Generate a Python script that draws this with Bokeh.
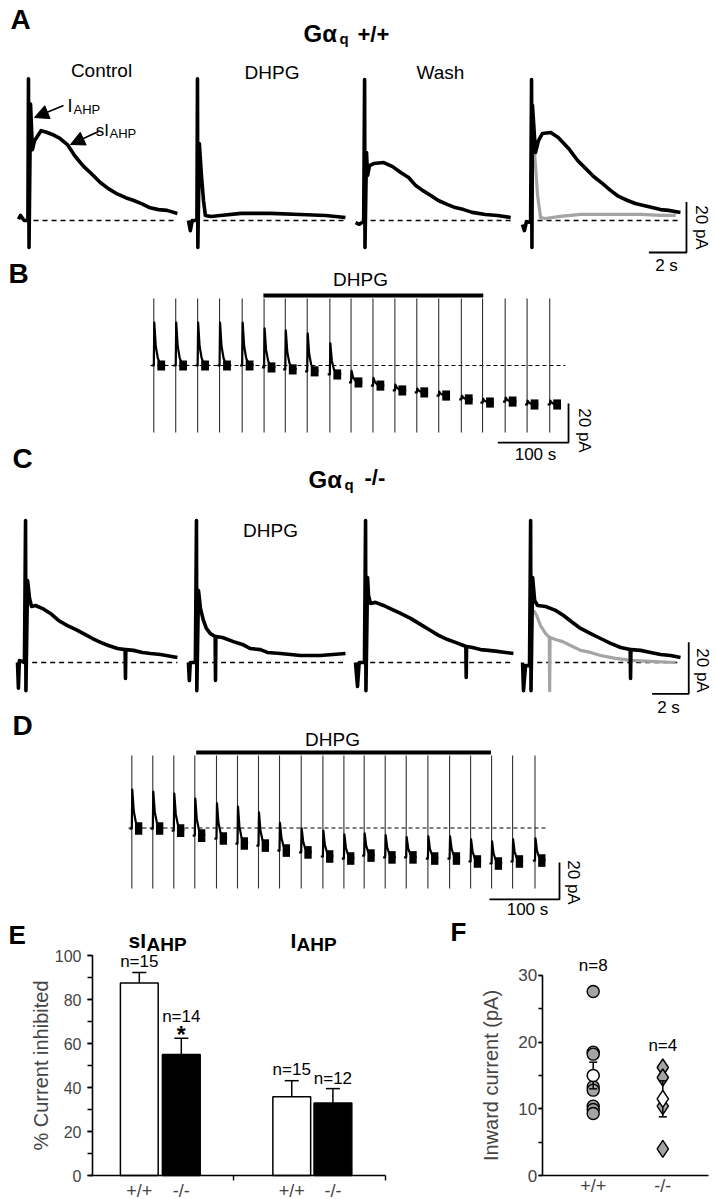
import math
from bokeh.plotting import figure
from bokeh.models import Range1d, LinearAxis, FixedTicker, SingleIntervalTicker, Arrow, NormalHead
from bokeh.core.properties import value
from bokeh.embed import file_html
from bokeh.resources import INLINE

# ======================= DATA =======================
# Panel A  (Gaq +/+): time (s) from sweep start, current (pA) vs baseline
A_ctrl_t = [0.0, 0.1, 0.3, 0.5, 0.53, 0.56, 0.64, 0.74, 0.85, 1.2, 1.45, 1.8, 2.2, 2.6, 3.0, 3.45, 3.95, 4.35, 4.8, 5.25, 5.7, 6.1, 6.6, 7.0, 7.45, 7.9, 8.45]
A_ctrl_i = [0.5, 2.0, 0.0, 0.0, 56.0, -10.7, 46.0, 28.0, 31.5, 35.5, 35.0, 34.0, 32.5, 30.0, 25.5, 21.5, 18.0, 15.0, 12.5, 10.5, 9.0, 8.0, 6.5, 5.0, 4.3, 4.0, 2.8]
A_dhpg_t = [0.0, 0.1, 0.2, 0.45, 0.48, 0.5, 0.58, 0.69, 0.8, 0.9, 1.2, 1.7, 2.8, 4.35, 5.95, 7.3, 8.35]
A_dhpg_i = [0.0, -4.0, 0.0, 0.0, 56.0, -10.7, 30.4, 17.8, 7.9, 2.0, 1.6, 2.0, 2.8, 2.8, 2.4, 2.0, 1.2]
A_wash_t = [0.0, 0.2, 0.43, 0.48, 0.5, 0.58, 0.64, 0.74, 0.96, 1.5, 1.97, 2.4, 2.82, 3.2, 3.56, 4.0, 4.4, 4.9, 5.3, 5.75, 6.2, 6.9, 7.55, 8.25]
A_wash_i = [-0.8, -1.5, -0.4, 55.7, -10.7, 26.9, 17.8, 21.7, 22.5, 22.9, 21.3, 19.0, 17.0, 13.8, 11.9, 9.9, 7.9, 6.3, 5.1, 4.3, 3.2, 2.4, 2.0, 1.2]
A_ovl_t = [0.0, 0.1, 0.21, 0.43, 0.48, 0.5, 0.53, 0.69, 0.85, 1.06, 1.5, 1.9, 2.45, 2.93, 3.35, 3.78, 4.26, 4.68, 5.11, 5.59, 6.0, 6.44, 6.9, 7.34, 7.77, 8.4]
A_ovl_i = [-1.6, -4.0, -0.4, -0.8, 55.7, -10.7, 45.5, 26.9, 31.6, 34.4, 34.8, 32.8, 28.5, 23.7, 20.6, 17.4, 14.6, 11.9, 9.5, 7.9, 6.7, 5.9, 5.1, 4.3, 4.0, 3.2]
A_gray_t = [0.53, 0.59, 0.69, 0.8, 0.96, 1.22, 2.0, 3.1, 4.15, 5.2, 6.3, 7.35, 8.15]
A_gray_i = [39.5, 31.6, 21.7, 9.9, 1.2, 0.8, 1.6, 2.4, 2.4, 2.4, 2.4, 2.0, 2.0]

# Panel C  (Gaq -/-)
C_ctrl_t = [0.0, 0.05, 0.1, 0.38, 0.44, 0.46, 0.55, 0.66, 0.77, 0.98, 1.37, 1.8, 2.24, 2.73, 3.17, 3.61, 4.1, 4.54, 4.97, 5.46, 5.88, 5.9, 5.92, 6.34, 6.83, 7.27, 7.81, 8.74]
C_ctrl_i = [0.0, -10.0, 0.8, 0.0, 55.0, -10.9, 31.8, 24.8, 21.7, 22.1, 20.9, 19.0, 16.3, 14.3, 12.8, 11.2, 9.3, 7.8, 6.6, 5.4, 5.0, -6.2, 5.0, 4.7, 3.9, 3.5, 3.1, 1.9]
C_dhpg_t = [0.0, 0.05, 0.1, 0.38, 0.44, 0.46, 0.55, 0.66, 0.82, 0.98, 1.2, 1.46, 1.48, 1.5, 1.86, 2.46, 2.95, 3.39, 3.93, 4.32, 5.03, 6.12, 7.21, 8.58]
C_dhpg_i = [0.0, -7.0, 0.0, 0.0, 55.0, -10.9, 27.9, 20.9, 16.3, 13.2, 11.2, 10.1, -7.0, 10.1, 9.7, 8.1, 7.0, 5.4, 5.0, 3.9, 3.5, 2.7, 2.7, 3.5]
C_wash_t = [0.0, 0.11, 0.2, 0.49, 0.55, 0.57, 0.66, 0.71, 0.82, 1.09, 1.53, 2.02, 2.46, 3.01, 3.66, 4.1, 4.54, 5.03, 5.46, 5.9, 6.03, 6.05, 6.07, 6.39, 6.83, 7.27, 7.76, 8.2, 8.63]
C_wash_i = [0.0, -9.3, 0.0, 0.0, 55.0, -10.9, 32.9, 26.0, 22.9, 23.3, 22.1, 20.5, 19.0, 17.1, 14.3, 12.4, 10.5, 8.9, 7.8, 6.6, 6.2, -5.8, 6.2, 5.8, 5.0, 4.7, 4.3, 3.9, 3.5]
C_ovl_t = [0.0, 0.05, 0.16, 0.38, 0.44, 0.46, 0.55, 0.66, 0.82, 1.26, 1.8, 2.24, 2.73, 3.17, 3.72, 4.26, 4.81, 5.36, 5.88, 5.9, 5.92, 6.45, 7.0, 7.54, 8.09, 8.63]
C_ovl_i = [0.0, -10.9, -1.2, -1.2, 55.0, -10.9, 32.9, 24.0, 22.1, 21.7, 20.2, 18.2, 15.5, 13.2, 11.2, 9.3, 7.4, 5.8, 5.0, -6.2, 5.0, 4.7, 3.9, 3.1, 2.7, 1.9]
C_gray_t = [0.6, 0.77, 0.98, 1.26, 1.46, 1.48, 1.5, 1.8, 2.19, 2.62, 3.17, 3.72, 4.26, 5.08, 5.9, 7.0, 8.36]
C_gray_i = [20.2, 18.2, 14.3, 11.2, 9.7, -10.9, 9.7, 8.9, 8.1, 6.6, 4.7, 3.9, 2.7, 1.6, 0.8, 0.4, 0.0]

# Panel B (time course, +/+): sweep onset (s), holding level (pA), AHP amplitude (pA)
B_onset = [0, 31, 62, 93, 125, 156, 186, 217, 249, 279, 310, 341, 372, 403, 435, 465, 497, 528, 560]
B_hold = [0, 0, 0, 0, 0, -1, -2, -3, -4.6, -8.7, -10.3, -12.8, -13.8, -15.4, -17.4, -19, -18.5, -20, -20]
B_amp = [22, 22, 22, 22, 22, 20, 20, 19.5, 16, 6, 4, 3, 2, 2, 2, 2, 2, 2, 2]
B_dhpg = [155, 466]
# Panel D (time course, -/-)
D_onset = [0, 30, 60, 90, 121, 151, 181, 211, 242, 273, 303, 332, 362, 392, 423, 454, 484, 514, 544, 576]
D_hold = [-0.3, -0.3, -1.4, -4.1, -5.7, -8.4, -9.5, -12.2, -13.2, -15.4, -16.5, -14.9, -15.9, -15.9, -16.5, -16.5, -18.1, -19.2, -18.1, -17.6]
D_amp = [21, 20, 20, 20, 19, 20, 18, 15, 13, 14, 13, 12, 12, 11, 12, 12, 12, 12, 12, 12]
D_dhpg = [92, 513]
# normalised AHP decay of one sweep in B/D (time after spike, fraction of peak)
SW_T = [0.7, 2.8, 5.7, 8.5]
SW_F = [1.0, 0.45, 0.17, 0.06]

# Panel E
E_geno = ["+/+", "-/-", "+/+", "-/-"]
E_mean = [87.5, 55.0, 35.8, 33.0]
E_sem = [4.8, 7.4, 7.3, 6.5]
E_n = ["n=15", "n=14", "n=15", "n=12"]
# Panel F
F_cats = ["+/+", "-/-"]
F_wt = [27.6, 18.5, 18.2, 13.3, 12.8, 10.4, 9.9, 9.3]
F_ko = [16.2, 14.7, 10.4, 4.0]
F_mean = [15.0, 11.5]
F_sem = [2.0, 2.7]
F_n = ["n=8", "n=4"]

# ======================= LAYOUT =======================
FONT = "Liberation Sans"
X0, X1, Y0, Y1 = 0, 715, 0, 1199
p = figure(width=X1 - X0, height=Y1 - Y0, x_range=Range1d(X0, X1), y_range=Range1d(Y1, Y0),
           x_axis_location=None, y_axis_location=None, output_backend="svg",
           toolbar_location=None, min_border=0, outline_line_color=None,
           background_fill_color="white", border_fill_color="white")
p.xgrid.visible = False
p.ygrid.visible = False

# panel -> (origin x px, origin y px, px per x-unit, px per y-unit)
PANELS = {
    "A": (18, 220, 18.8, 2.53),
    "B": (153.3, 365, 0.707, 1.95),
    "C": (17, 662, 18.3, 2.58),
    "D": (131.3, 827.5, 0.70, 1.85),
    "E": (96.8, 1175, 42.0, 2.2),
    "F": (523.1, 1175, 69.6, 6.667),
}
xr, yr = {}, {}
for k, (ox, oy, sx, sy) in PANELS.items():
    xr[k] = Range1d((X0 - ox) / sx, (X1 - ox) / sx)
    yr[k] = Range1d((oy - Y1) / sy, (oy - Y0) / sy)
p.extra_x_ranges = xr
p.extra_y_ranges = yr


def R(k):
    return dict(x_range_name=k, y_range_name=k)


def txt(x, y, s, size, bold=False, align="left", angle=0.0):
    p.text(x=[x], y=[y], text=[s], text_font=value(FONT), text_font_size=f"{size}px",
           text_font_style="bold" if bold else "normal", text_align=align,
           text_baseline="middle", angle=angle, text_color="black")


GRAY = "#a4a4a4"

# ---------- A and C : single sweeps ----------
def trace_panel(k, starts, traces, gray, bar_corner):
    for off, (t, i) in zip(starts, traces):
        p.line([off + 0.8, off + t[-1]], [0, 0], line_color="black", line_width=1.4,
               line_dash="5 4", **R(k))
    gt, gi = gray
    p.line([starts[3] + v for v in gt], gi, line_color=GRAY, line_width=3.2,
           line_join="round", **R(k))
    for off, (t, i) in zip(starts, traces):
        p.line([off + v for v in t], i, line_color="black", line_width=3.6,
               line_join="round", **R(k))
    bx, by = bar_corner
    p.line([bx - 2, bx, bx], [by, by, by + 20], line_color="black", line_width=1.8, **R(k))


trace_panel("A", [0.0, 9.04, 17.93, 26.81],
            [(A_ctrl_t, A_ctrl_i), (A_dhpg_t, A_dhpg_i), (A_wash_t, A_wash_i), (A_ovl_t, A_ovl_i)],
            (A_gray_t, A_gray_i), (35.53, -12.65))
trace_panel("C", [0.0, 9.34, 18.47, 27.6],
            [(C_ctrl_t, C_ctrl_i), (C_dhpg_t, C_dhpg_i), (C_wash_t, C_wash_i), (C_ovl_t, C_ovl_i)],
            (C_gray_t, C_gray_i), (36.68, -12.13))

# ---------- B and D : time courses ----------
def course_panel(k, onset, hold, amp, dhpg, spike, dash, blob, bar_y, bar_corner):
    p.line(dash, [0, 0], line_color="black", line_width=1.2, line_dash="4 3", **R(k))
    n = len(onset)
    p.segment(x0=onset, y0=[spike[0]] * n, x1=onset, y1=[spike[1]] * n,
              line_color="#303030", line_width=1.1, **R(k))
    xs, ys = [], []
    for t0, h, a in zip(onset, hold, amp):
        xs.append([t0 - 3, t0] + [t0 + d for d in SW_T] + [t0 + blob[1]])
        ys.append([h, h] + [h + a * f for f in SW_F] + [h])
    p.multi_line(xs, ys, line_color="black", line_width=2.2, line_join="round", **R(k))
    p.quad(left=[t + blob[0] for t in onset], right=[t + blob[1] for t in onset],
           bottom=[h - blob[2] for h in hold], top=[h + blob[2] for h in hold],
           fill_color="black", line_color=None, **R(k))
    p.line(dhpg, [bar_y, bar_y], line_color="black", line_width=4, **R(k))
    bx, by = bar_corner
    p.line([bx - 100, bx, bx], [by, by, by + 20], line_color="black", line_width=1.8, **R(k))


course_panel("B", B_onset, B_hold, B_amp, B_dhpg, (34.4, -34.4), [-4.7, 582],
             (5, 16, 2.6), 35.9, (586.6, -39.5))
course_panel("D", D_onset, D_hold, D_amp, D_dhpg, (39.2, -32.7), [-4.7, 591],
             (4.5, 15, 3.4), 40.8, (611, -38.6))

# ---------- texts A-D (y = visual centre) ----------
for s, x, y in [("A", 10, 19), ("B", 8, 272.5), ("C", 12, 457.5), ("D", 12, 725),
                ("E", 8, 934), ("F", 450, 931)]:
    txt(x, y, s, 28 if s in "ABCD" else 26, bold=True)
txt(303, 33, "Gα", 24, bold=True)
txt(339, 38, "q", 15, bold=True)
txt(357, 34, "+/+", 22, bold=True)
txt(308, 479, "Gα", 24, bold=True)
txt(344, 484, "q", 15, bold=True)
txt(364, 477, "-/-", 22, bold=True)
for s, x, y in [("Control", 101, 70), ("DHPG", 271.5, 71.5), ("Wash", 440, 72),
                ("DHPG", 360, 278.5), ("DHPG", 270, 530), ("DHPG", 332, 739)]:
    txt(x, y, s, 19, align="center")
txt(67, 105, "I", 18)
txt(73, 108.5, "AHP", 13)
txt(108.5, 130, "sI", 17, align="right")
txt(109, 133, "AHP", 13)
p.add_layout(Arrow(end=NormalHead(size=14, fill_color="black", line_color="black"),
                   x_start=63, y_start=105, x_end=34, y_end=117, line_width=1.5))
p.add_layout(Arrow(end=NormalHead(size=14, fill_color="black", line_color="black"),
                   x_start=98, y_start=131, x_end=70, y_end=144, line_width=1.5))
for s, x, y in [("2 s", 666, 265), ("100 s", 535, 453.5), ("2 s", 668, 707), ("100 s", 527, 909)]:
    txt(x, y, s, 17, align="center")
for x, y in [(701, 227), (583.5, 430), (702, 670), (573, 882)]:
    txt(x, y, "20 pA", 17, align="center", angle=-math.pi / 2)

# ---------- E : bar chart ----------
eox, eoy, esx, esy = PANELS["E"]
E_x = [1.0, 2.0, 4.63, 5.61]
p.vbar(x=E_x, top=E_mean, bottom=0, width=0.9, fill_color=["white", "black", "white", "black"],
       line_color="black", line_width=1.5, **R("E"))
tops = [m + s for m, s in zip(E_mean, E_sem)]
p.segment(x0=E_x, y0=E_mean, x1=E_x, y1=tops, line_color="black", line_width=1.5, **R("E"))
cw = 7 / esx
p.segment(x0=[x - cw for x in E_x], y0=tops, x1=[x + cw for x in E_x], y1=tops,
          line_color="black", line_width=1.5, **R("E"))
gaps = [5.0, 9.9, 5.1, 4.6]
p.text(x=E_x, y=[t + g for t, g in zip(tops, gaps)], text=E_n, text_font=value(FONT),
       text_font_size="17px", text_align="center", text_baseline="middle", **R("E"))
p.text(x=[E_x[1]], y=[tops[1] + 1.3], text=["*"], text_font=value(FONT), text_font_size="23px",
       text_font_style="bold", text_align="center", text_baseline="middle", **R("E"))
txt(128, 939.5, "sI", 21, bold=True)
txt(146, 943.5, "AHP", 19, bold=True)
txt(290, 939.5, "I", 21, bold=True)
txt(296, 943.5, "AHP", 19, bold=True)


def style_axis(ax, lab_size):
    ax.axis_line_width = 1.6
    ax.major_tick_line_width = 1.4
    ax.minor_tick_line_width = 1.4
    ax.major_label_text_font = FONT
    ax.major_label_text_font_size = f"{lab_size}px"
    ax.axis_label_text_font = FONT
    ax.axis_label_text_font_size = "20px"
    ax.axis_label_text_font_style = "normal"
    ax.major_tick_in = 0
    ax.minor_tick_in = 0


yE = LinearAxis(fixed_location=(92 - eox) / esx, bounds=(0, 100),
                ticker=SingleIntervalTicker(interval=20, num_minor_ticks=2),
                axis_label="% Current inhibited", **R("E"))
style_axis(yE, 16)
yE.major_tick_out = 5
yE.minor_tick_out = 5
yE.major_label_standoff = 6
yE.axis_label_standoff = 0
p.add_layout(yE, "left")
xE = LinearAxis(fixed_location=0, bounds=((90 - eox) / esx, (385 - eox) / esx),
                ticker=FixedTicker(ticks=E_x, minor_ticks=[(233 - eox) / esx, (385 - eox) / esx]),
                major_label_overrides={x: g for x, g in zip(E_x, E_geno)}, **R("E"))
style_axis(xE, 18)
xE.major_tick_out = 0
xE.minor_tick_out = 5
xE.major_label_standoff = 0
p.add_layout(xE, "below")

# ---------- F : scatter ----------
fox, foy, fsx, fsy = PANELS["F"]
F_x = [1.0, 2.0]
p.scatter(x=[F_x[0]] * len(F_wt), y=F_wt, marker="circle", size=12, fill_color=GRAY,
          line_color="black", line_width=1.4, **R("F"))
p.scatter(x=[F_x[1]] * len(F_ko), y=F_ko, marker="diamond", size=17, fill_color=GRAY,
          line_color="black", line_width=1.4, **R("F"))
lo = [m - s for m, s in zip(F_mean, F_sem)]
hi = [m + s for m, s in zip(F_mean, F_sem)]
p.segment(x0=F_x, y0=lo, x1=F_x, y1=hi, line_color="black", line_width=1.5, **R("F"))
fcw = 4 / fsx
for yy in (lo, hi):
    p.segment(x0=[x - fcw for x in F_x], y0=yy, x1=[x + fcw for x in F_x], y1=yy,
              line_color="black", line_width=1.5, **R("F"))
p.scatter(x=[F_x[0]], y=[F_mean[0]], marker="circle", size=12, fill_color="white",
          line_color="black", line_width=1.5, **R("F"))
p.scatter(x=[F_x[1]], y=[F_mean[1]], marker="diamond", size=17, fill_color="white",
          line_color="black", line_width=1.5, **R("F"))
p.text(x=F_x, y=[max(F_wt) + 3.9, max(F_ko) + 3.3], text=F_n, text_font=value(FONT),
       text_font_size="17px", text_align="center", text_baseline="middle", **R("F"))

yF = LinearAxis(fixed_location=(541.7 - fox) / fsx, bounds=(0, 30),
                ticker=SingleIntervalTicker(interval=10, num_minor_ticks=2),
                axis_label="Inward current (pA)", **R("F"))
style_axis(yF, 17)
yF.major_tick_out = 4
yF.minor_tick_out = 4
yF.major_label_standoff = 1
yF.axis_label_standoff = 14
p.add_layout(yF, "left")
xF = LinearAxis(fixed_location=0, bounds=((541.7 - fox) / fsx, (708 - fox) / fsx),
                ticker=FixedTicker(ticks=F_x), major_label_overrides={x: c for x, c in zip(F_x, F_cats)},
                **R("F"))
style_axis(xF, 18)
xF.major_tick_out = 0
xF.major_label_standoff = 0
p.add_layout(xF, "below")

open("out.html", "w").write(file_html(p, INLINE))
